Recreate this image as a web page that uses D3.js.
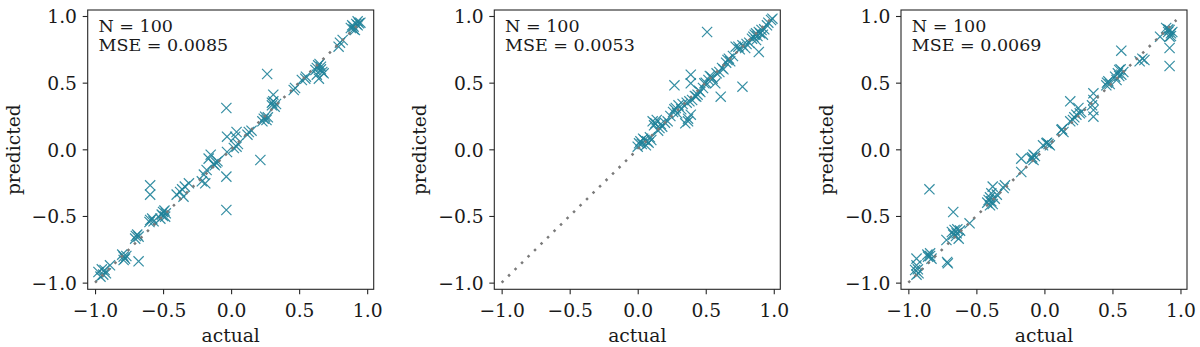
<!DOCTYPE html>
<html>
<head>
<meta charset="utf-8">
<script src="https://cdn.jsdelivr.net/npm/d3@7"></script>
<style>
  body { margin: 0; background: #fff; }
  svg text { font-family: "DejaVu Serif", serif; fill: #1a1a1a; }
</style>
</head>
<body>
<div id="chart"></div>
<script>
// panel 1
const actual1 = [0.88,0.89,0.90,0.91,0.92,0.93,0.94,0.95,0.90,0.93,
  0.80,0.79,0.82,
  0.64,0.66,0.62,0.67,0.63,0.68,0.645,0.65,0.63,0.66,
  0.545,0.52,0.55,0.47,0.46,0.265,
  0.31,0.31,0.30,0.32,0.30,0.33,
  0.25,0.26,0.23,0.24,0.27,
  0.13,0.12,0.15,
  0.03,0.04,0.04,0.02,-0.03,-0.03,0.05,
  -0.035,-0.035,-0.035,0.215,
  -0.10,-0.12,-0.11,-0.15,-0.165,-0.18,-0.20,-0.215,-0.19,-0.13,
  -0.31,-0.34,-0.375,-0.40,-0.35,-0.36,
  -0.595,-0.595,
  -0.595,-0.57,-0.60,-0.58,
  -0.50,-0.51,-0.485,-0.52,-0.49,-0.50,-0.48,
  -0.69,-0.705,-0.68,-0.70,
  -0.68,
  -0.79,-0.78,-0.80,-0.77,-0.79,
  -0.89,-0.93,-0.94,-0.975,-0.96,-0.92,-0.95];
const predicted1 = [0.91,0.93,0.92,0.895,0.94,0.93,0.945,0.95,0.90,0.96,
  0.80,0.77,0.82,
  0.63,0.62,0.595,0.58,0.56,0.57,0.53,0.64,0.61,0.60,
  0.53,0.52,0.545,0.46,0.445,0.565,
  0.41,0.36,0.33,0.32,0.35,0.34,
  0.245,0.22,0.21,0.23,0.24,
  0.13,0.11,0.14,
  0.095,0.13,0.02,0.01,0.095,-0.02,0.04,
  0.31,-0.205,-0.455,-0.08,
  -0.09,-0.12,-0.10,-0.04,-0.07,-0.155,-0.19,-0.24,-0.255,-0.11,
  -0.255,-0.28,-0.32,-0.34,-0.355,-0.30,
  -0.27,-0.34,
  -0.53,-0.54,-0.545,-0.52,
  -0.47,-0.49,-0.505,-0.52,-0.46,-0.50,-0.48,
  -0.64,-0.67,-0.655,-0.65,
  -0.84,
  -0.805,-0.82,-0.79,-0.80,-0.83,
  -0.87,-0.905,-0.94,-0.92,-0.955,-0.93,-0.90];

// panel 2
const actual2 = [0.51,0.89,0.77,0.61,0.57,0.27,0.39,0.39,0.37,0.35,0.39,0.37,
  0.01,0.0,0.02,0.03,0.05,0.07,0.06,0.08,0.10,0.04,0.09,
  0.11,0.12,0.13,0.14,0.16,0.18,0.17,0.20,0.15,0.22,
  0.24,0.26,0.27,0.28,0.30,0.32,0.29,0.33,
  0.36,0.38,0.40,0.42,0.43,0.44,0.45,0.46,
  0.48,0.49,0.50,0.52,0.54,0.53,0.55,0.58,0.60,0.62,0.63,
  0.65,0.66,0.67,0.68,0.70,
  0.72,0.74,0.75,0.77,0.79,0.80,0.82,
  0.84,0.85,0.86,0.87,0.88,0.89,0.90,0.91,0.87,0.92,0.93,0.95,0.96,0.98,0.99];
const predicted2 = [0.88,0.73,0.47,0.395,0.495,0.48,0.56,0.495,0.23,0.195,0.26,0.21,
  0.045,0.02,0.06,0.04,0.07,0.06,0.03,0.05,0.07,0.08,0.09,
  0.21,0.18,0.195,0.22,0.16,0.17,0.19,0.20,0.14,0.21,
  0.25,0.28,0.30,0.31,0.33,0.30,0.27,0.34,
  0.35,0.36,0.37,0.40,0.395,0.41,0.44,0.43,
  0.46,0.495,0.50,0.52,0.545,0.55,0.53,0.57,0.58,0.61,0.60,
  0.65,0.67,0.68,0.66,0.70,
  0.77,0.77,0.75,0.78,0.76,0.79,0.80,
  0.83,0.845,0.86,0.87,0.85,0.88,0.87,0.895,0.82,0.86,0.90,0.93,0.95,0.97,0.98];

// panel 3
const actual3 = [0.92,0.91,0.93,0.895,0.92,0.92,0.92,0.85,0.94,0.91,0.93,
  0.735,0.70,0.72,
  0.565,
  0.55,0.54,0.565,0.52,0.58,0.53,0.56,0.55,
  0.47,0.455,0.46,0.48,
  0.36,0.36,0.36,0.36,0.35,
  0.19,0.25,0.26,0.235,0.27,0.21,0.19,0.22,
  0.125,0.14,0.13,
  0.015,0.04,-0.01,0.03,0.02,
  -0.08,-0.095,-0.07,-0.08,-0.09,
  -0.17,-0.17,
  -0.29,-0.30,
  -0.38,-0.39,-0.41,-0.39,-0.40,-0.365,-0.35,-0.40,-0.42,-0.38,
  -0.55,
  -0.67,
  -0.66,-0.645,-0.67,-0.63,-0.68,-0.62,-0.65,-0.64,
  -0.72,
  -0.845,
  -0.84,-0.855,-0.83,-0.86,-0.84,
  -0.71,-0.715,
  -0.94,-0.94,-0.95,-0.925,-0.94,-0.93];
const predicted3 = [0.895,0.88,0.87,0.91,0.845,0.76,0.625,0.845,0.88,0.90,0.85,
  0.67,0.66,0.68,
  0.74,
  0.595,0.57,0.56,0.545,0.58,0.52,0.60,0.55,
  0.51,0.48,0.50,0.49,
  0.42,0.37,0.295,0.245,0.33,
  0.36,0.31,0.27,0.26,0.28,0.22,0.21,0.24,
  0.145,0.13,0.15,
  0.045,0.03,0.03,0.04,0.05,
  -0.04,-0.07,-0.05,-0.08,-0.06,
  -0.07,-0.17,
  -0.27,-0.29,
  -0.28,-0.33,-0.38,-0.39,-0.42,-0.37,-0.34,-0.36,-0.40,-0.41,
  -0.555,
  -0.47,
  -0.605,-0.63,-0.64,-0.67,-0.62,-0.61,-0.65,-0.60,
  -0.68,
  -0.30,
  -0.78,-0.805,-0.82,-0.79,-0.80,
  -0.855,-0.845,
  -0.82,-0.87,-0.905,-0.93,-0.94,-0.90];

const actualSets = [actual1, actual2, actual3];
const predictedSets = [predicted1, predicted2, predicted3];
const counts = ["N = 100", "N = 100", "N = 100"];
const mseLabels = ["MSE = 0.0085", "MSE = 0.0053", "MSE = 0.0069"];
const diagonalEnds = [[-1, 0.96], [-1, 0.99], [-1, 0.97]];
const tickValues = [-1.0, -0.5, 0.0, 0.5, 1.0];

const svg = d3.select('#chart').append('svg').attr('width', 1200).attr('height', 347);

const panelLeft = [87.7, 494.3, 901],
      panelTop = 10,
      width = 286,
      height = 279.3;

const fmt = d => d3.format('.1f')(d).replace('-', '\u2212');

for (let i = 0; i < 3; i++) {
  const x = d3.scaleLinear().domain([-1.054, 1.048]).range([0, width]);
  const y = d3.scaleLinear().domain([-1.05, 1.045]).range([height, 0]);

  const g = svg.append('g')
    .attr('transform', `translate(${panelLeft[i]},${panelTop})`);

  const pts = actualSets[i].map((a, j) => ({a: a, p: predictedSets[i][j]}));

  g.append('g').selectAll('path')
    .data(pts)
    .join('path')
    .attr('transform', d => `translate(${x(d.a)},${y(d.p)})`)
    .attr('d', 'M-5.1,-5.1L5.1,5.1M-5.1,5.1L5.1,-5.1')
    .attr('fill', 'none')
    .attr('stroke', '#1f8299')
    .attr('stroke-opacity', 0.9)
    .attr('stroke-width', 1.2);

  const diag = diagonalEnds[i];
  g.append('path')
    .datum(diag)
    .attr('fill', 'none')
    .attr('stroke', '#7a7a7a')
    .attr('stroke-width', 2.5)
    .attr('stroke-dasharray', '2.5 6.6')
    .attr('d', d3.line().x(d => x(d)).y(d => y(d)));

  g.append('rect')
    .attr('width', width).attr('height', height)
    .attr('fill', 'none')
    .attr('stroke', '#262626')
    .attr('stroke-width', 1.1);

  const xAxis = g.append('g')
    .attr('transform', `translate(0,${height})`)
    .call(d3.axisBottom(x).tickValues(tickValues).tickFormat(fmt).tickSize(5).tickSizeOuter(0));
  xAxis.select('.domain').remove();
  xAxis.selectAll('line').attr('stroke', '#262626').attr('stroke-width', 1.1);
  xAxis.selectAll('text')
    .attr('y', 27.4).attr('dy', null)
    .attr('font-size', '18.7px')
    .attr('font-family', '"DejaVu Serif", serif')
    .attr('fill', '#1a1a1a');

  const yAxis = g.append('g')
    .call(d3.axisLeft(y).tickValues(tickValues).tickFormat(fmt).tickSize(5).tickSizeOuter(0));
  yAxis.select('.domain').remove();
  yAxis.selectAll('line').attr('stroke', '#262626').attr('stroke-width', 1.1);
  yAxis.selectAll('text')
    .attr('x', -10.7).attr('dy', '0.36em')
    .attr('font-size', '18.7px')
    .attr('font-family', '"DejaVu Serif", serif')
    .attr('fill', '#1a1a1a');

  g.append('text')
    .attr('x', width / 2).attr('y', height + 52.2)
    .attr('text-anchor', 'middle')
    .attr('font-size', '18.7px')
    .text('actual');

  g.append('text')
    .attr('transform', `translate(-68,${height / 2}) rotate(-90)`)
    .attr('text-anchor', 'middle')
    .attr('font-size', '18.7px')
    .text('predicted');

  g.append('text')
    .attr('x', 10.8).attr('y', 21.7)
    .attr('font-size', '17.5px')
    .text(counts[i]);
  g.append('text')
    .attr('x', 10.8).attr('y', 40.7)
    .attr('font-size', '17.5px')
    .text(mseLabels[i]);
}
</script>
</body>
</html>
